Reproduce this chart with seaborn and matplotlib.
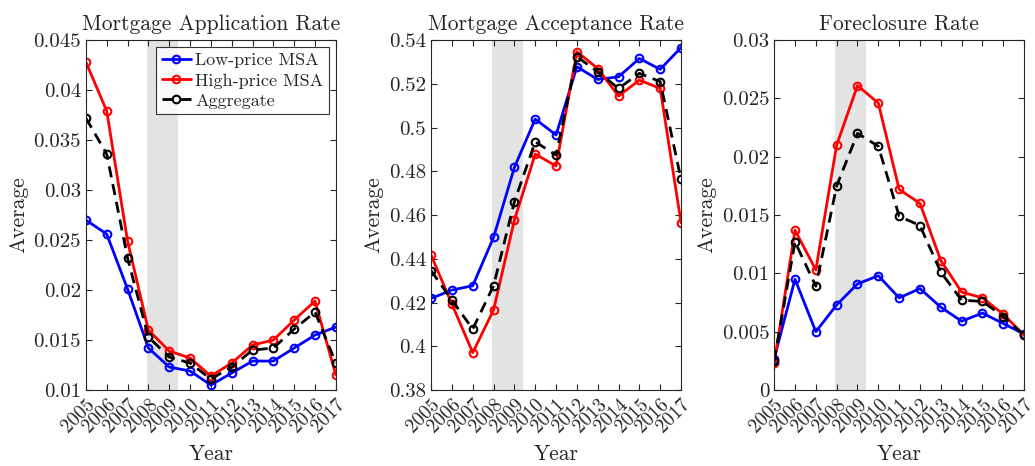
import seaborn as sns
import matplotlib.pyplot as plt
import matplotlib.ticker as mticker
import pandas as pd

years = list(range(2005, 2018))

# Mortgage application rate
app_low = [0.0270, 0.0256, 0.0201, 0.0142, 0.0123, 0.0119, 0.0105, 0.0117, 0.0129, 0.0129, 0.0142, 0.0155, 0.0163]
app_high = [0.0428, 0.0379, 0.0249, 0.0160, 0.0139, 0.0132, 0.0114, 0.0127, 0.0145, 0.0150, 0.0170, 0.0189, 0.0115]
app_agg = [0.0372, 0.0336, 0.0232, 0.0153, 0.0133, 0.0127, 0.0111, 0.0123, 0.0140, 0.0142, 0.0161, 0.0178, 0.0127]

# Mortgage acceptance rate
acc_low = [0.4219, 0.4257, 0.4277, 0.4498, 0.4818, 0.5039, 0.4966, 0.5278, 0.5220, 0.5232, 0.5316, 0.5266, 0.5366]
acc_high = [0.4417, 0.4193, 0.3971, 0.4166, 0.4577, 0.4879, 0.4824, 0.5347, 0.5270, 0.5144, 0.5217, 0.5179, 0.4565]
acc_agg = [0.4346, 0.4211, 0.4079, 0.4277, 0.4661, 0.4935, 0.4874, 0.5324, 0.5255, 0.5179, 0.5248, 0.5210, 0.4763]

# Foreclosure rate
fc_low = [0.0027, 0.0095, 0.0050, 0.0073, 0.0091, 0.0098, 0.0079, 0.0087, 0.0071, 0.0059, 0.0066, 0.0057, 0.0048]
fc_high = [0.0023, 0.0137, 0.0103, 0.0210, 0.0261, 0.0246, 0.0172, 0.0160, 0.0111, 0.0084, 0.0079, 0.0065, 0.0047]
fc_agg = [0.0025, 0.0127, 0.0089, 0.0175, 0.0220, 0.0209, 0.0149, 0.0141, 0.0101, 0.0077, 0.0076, 0.0063, 0.0047]

titles = ["Mortgage Application Rate", "Mortgage Acceptance Rate", "Foreclosure Rate"]
ylims = [(0.01, 0.045), (0.38, 0.54), (0, 0.03)]
yticks = [[0.01, 0.015, 0.02, 0.025, 0.03, 0.035, 0.04, 0.045],
          [0.38, 0.40, 0.42, 0.44, 0.46, 0.48, 0.50, 0.52, 0.54],
          [0, 0.005, 0.01, 0.015, 0.02, 0.025, 0.03]]
recession = (2007.92, 2009.42)

panels = [(app_low, app_high, app_agg), (acc_low, acc_high, acc_agg), (fc_low, fc_high, fc_agg)]

sns.set_style("ticks")
plt.rcParams["font.family"] = ["cmr10", "DejaVu Serif"]
plt.rcParams["mathtext.fontset"] = "cm"
plt.rcParams["axes.formatter.use_mathtext"] = True
plt.rcParams["xtick.direction"] = "in"
plt.rcParams["ytick.direction"] = "in"
plt.rcParams["xtick.top"] = True
plt.rcParams["ytick.right"] = True

txt = "#262626"
fig = plt.figure(figsize=(10.35, 4.66), dpi=100)
lefts = [0.083, 0.4165, 0.748]
axes = [fig.add_axes([l, 0.163, 0.2415, 0.751]) for l in lefts]

for ax, (low, high, agg), title, yl, yt in zip(axes, panels, titles, ylims, yticks):
    ax.axvspan(recession[0], recession[1], color="#e3e3e3", lw=0, zorder=0)
    df = pd.DataFrame({"Year": years, "low": low, "high": high, "agg": agg})
    sns.lineplot(data=df, x="Year", y="low", ax=ax, color="#0000ff", lw=2, marker="o",
                 markersize=5.5, markerfacecolor="none", markeredgewidth=1.5,
                 markeredgecolor="#0000ff", label="Low-price MSA")
    sns.lineplot(data=df, x="Year", y="high", ax=ax, color="#ff0000", lw=2, marker="o",
                 markersize=5.5, markerfacecolor="none", markeredgewidth=1.5,
                 markeredgecolor="#ff0000", label="High-price MSA")
    sns.lineplot(data=df, x="Year", y="agg", ax=ax, color="black", lw=2, marker="o",
                 markersize=5.5, markerfacecolor="none", markeredgewidth=1.5,
                 markeredgecolor="black", linestyle=(0, (4, 2.5)), label="Aggregate")
    ax.set_xlim(2005, 2017)
    ax.set_ylim(*yl)
    ax.set_yticks(yt)
    ax.yaxis.set_major_formatter(mticker.FuncFormatter(lambda v, p: "%g" % round(v, 4)))
    ax.set_xticks(years)
    ax.set_xticklabels([str(y) for y in years], rotation=45, ha="right",
                       rotation_mode="anchor", fontsize=14, color=txt)
    ax.tick_params(axis="y", labelsize=15, labelcolor=txt, length=4, color=txt)
    ax.tick_params(axis="x", length=4, color=txt, pad=4)
    ax.set_title(title, fontsize=15.5, color=txt, pad=7)
    ax.set_xlabel("Year", fontsize=15.5, color=txt, labelpad=6)
    ax.set_ylabel("Average", fontsize=15.5, color=txt, labelpad=4)
    for s in ax.spines.values():
        s.set_color(txt)
        s.set_linewidth(0.8)
    if ax is axes[0]:
        leg = ax.legend(loc="upper right", fontsize=13, frameon=True, fancybox=False,
                        edgecolor="black", handlelength=1.6, borderaxespad=0.4,
                        labelspacing=0.25, borderpad=0.3, handletextpad=0.25)
        leg.get_frame().set_linewidth(0.8)
        for t in leg.get_texts():
            t.set_color(txt)
    else:
        ax.get_legend().remove()

fig.savefig("out.png", dpi=100)
